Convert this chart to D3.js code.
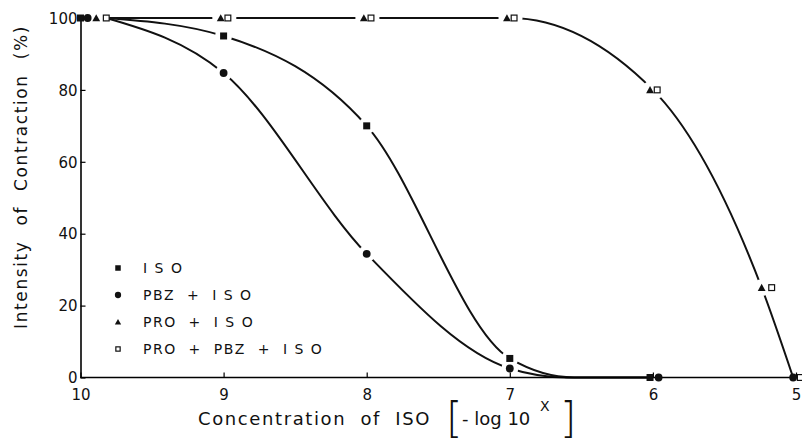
<!DOCTYPE html>
<html lang="en">
<head>
    <meta charset="utf-8"/>
    <title>Intensity of contraction vs ISO</title>
    <script src="https://d3js.org/d3.v7.min.js"></script>
    <style>
        body { margin: 0; background: white; }
        text { font-family: 'DejaVu Sans', sans-serif; fill: #111; }
    </style>
</head>
<body>
<script>

    // marker positions: [ -log conc , % contraction ]
    var isoPts    = [[10.0, 100], [9, 95], [8, 70], [7, 5.3], [6.02, 0]];
    var pbzPts    = [[9.95, 100], [9, 84.7], [8, 34.4], [7, 2.5], [5.96, 0], [5.02, 0]];
    var proPts    = [[9.89, 100], [9.02, 100], [8.02, 100], [7.02, 100], [6.02, 80], [5.24, 25]];
    var proPbzPts = [[9.82, 100], [8.97, 100], [7.97, 100], [6.97, 100], [5.97, 80], [5.17, 25], [4.97, 0]];

    // curve anchors used for the fitted lines
    var isoCurve = [[9.82, 100], [9, 95], [8, 70], [7, 5.3], [6.55, 0], [6, 0]];
    var pbzCurve = [[9.82, 100], [9, 84.7], [8, 34.4], [7, 2.5], [6.6, 0], [6, 0]];
    var proCurve = [[9.82, 100], [9, 100], [8, 100], [7, 100], [6, 80], [5.24, 25], [5.02, 0]];

    var xTicks = [10, 9, 8, 7, 6, 5];
    var yTicks = [0, 20, 40, 60, 80, 100];
    var legendNames = ['I S O', 'PBZ  +  I S O', 'PRO  +  I S O', 'PRO  +  PBZ  +  I S O'];
    var legendShapes = ['square', 'circle', 'triangle', 'open'];

    var width = 802;
    var height = 443;

    var x = d3.scaleLinear().domain([10, 5]).range([80.5, 796]);
    var y = d3.scaleLinear().domain([0, 100]).range([377.5, 18]);

    var svg = d3.select('body')
                .append('svg')
                .attr('width', width)
                .attr('height', height);

    var line = d3.line()
                 .x(function(d){ return x(d[0]); })
                 .y(function(d){ return y(d[1]); })
                 .curve(d3.curveMonotoneX);

    var curves = svg.append('g');
    [isoCurve, pbzCurve, proCurve].forEach(function(c){
        curves.append('path')
              .attr('d', line(c))
              .attr('fill', 'none')
              .attr('stroke', '#111')
              .attr('stroke-width', 2);
    });

    // white gaps around plotted points (not the start point at the left)
    var allPts = isoPts.concat(pbzPts, proPts, proPbzPts).filter(function(d){
        return d[0] < 9.5 && d[1] > 0;
    });
    svg.append('g')
       .selectAll('circle')
       .data(allPts)
       .enter()
       .append('circle')
       .attr('cx', function(d){ return x(d[0]); })
       .attr('cy', function(d){ return y(d[1]); })
       .attr('r', 8.5)
       .attr('fill', 'white');

    // axes
    var xAxis = d3.axisBottom(x).tickValues(xTicks).tickFormat(d3.format('d'))
                  .tickSizeInner(-5).tickSizeOuter(0).tickPadding(12);
    var yAxis = d3.axisLeft(y).tickValues(yTicks).tickFormat(d3.format('d'))
                  .tickSizeInner(-5).tickSizeOuter(0).tickPadding(3);

    var gx = svg.append('g')
       .attr('transform', 'translate(0,' + y(0) + ')')
       .call(xAxis);
    gx.select('.domain').attr('d', 'M' + x(10) + ',0H800').attr('stroke-width', 1.6);

    var gy = svg.append('g')
       .attr('transform', 'translate(' + x(10) + ',0)')
       .call(yAxis);
    gy.select('.domain').attr('stroke-width', 1.6);

    svg.selectAll('.tick line').attr('stroke-width', 1.2);
    svg.selectAll('.tick text')
       .style('font-family', "'DejaVu Sans', sans-serif")
       .attr('font-size', 15)
       .attr('fill', '#111');
    gy.selectAll('.tick text').attr('dy', '0.35em');

    // markers
    function drawMarker(g, shape, cx, cy, s) {
        if (shape === 'square') {
            g.append('rect').attr('x', cx - s / 2).attr('y', cy - s / 2)
             .attr('width', s).attr('height', s).attr('fill', '#111');
        } else if (shape === 'circle') {
            g.append('circle').attr('cx', cx).attr('cy', cy).attr('r', s / 2 + 0.4).attr('fill', '#111');
        } else if (shape === 'triangle') {
            var h = s * 0.95;
            g.append('path')
             .attr('d', 'M' + cx + ',' + (cy - h / 2 - 0.5) + 'L' + (cx + s / 2 + 0.4) + ',' + (cy + h / 2) + 'L' + (cx - s / 2 - 0.4) + ',' + (cy + h / 2) + 'Z')
             .attr('fill', '#111');
        } else {
            g.append('rect').attr('x', cx - s / 2 + 0.6).attr('y', cy - s / 2 + 0.6)
             .attr('width', s - 1.2).attr('height', s - 1.2)
             .attr('fill', 'white').attr('stroke', '#111').attr('stroke-width', 1.2);
        }
    }

    var gm = svg.append('g');
    [[isoPts, 'square'], [pbzPts, 'circle'], [proPts, 'triangle'], [proPbzPts, 'open']].forEach(function(p){
        p[0].forEach(function(d){
            drawMarker(gm, p[1], x(d[0]), y(d[1]), 7);
        });
    });

    // legend
    var lg = svg.append('g');
    legendNames.forEach(function(name, i){
        var ly = 268 + i * 27;
        drawMarker(lg, legendShapes[i], 118, ly, 5.5);
        lg.append('text')
          .attr('x', 143)
          .attr('y', ly)
          .attr('dy', '0.36em')
          .attr('font-size', 14)
          .style('letter-spacing', '1.5px')
          .style('white-space', 'pre')
          .text(name);
    });

    // axis titles
    svg.append('text')
       .attr('transform', 'translate(27,' + 177 + ') rotate(-90)')
       .attr('text-anchor', 'middle')
       .attr('font-size', 17)
       .style('letter-spacing', '1.6px')
       .style('word-spacing', '8px')
       .text('Intensity of Contraction (%)');

    svg.append('text')
       .attr('x', 198)
       .attr('y', 425)
       .attr('font-size', 18)
       .style('letter-spacing', '1.6px')
       .style('word-spacing', '7px')
       .text('Concentration of ISO');

    svg.append('text').attr('x', 446).attr('y', 433).attr('font-size', 42)
       .style('font-weight', 200).text('[');
    svg.append('text').attr('x', 462).attr('y', 425).attr('font-size', 18).text('- log 10');
    svg.append('text').attr('x', 540).attr('y', 411).attr('font-size', 14).text('X');
    svg.append('text').attr('x', 560).attr('y', 433).attr('font-size', 42)
       .style('font-weight', 200).text(']');

</script>
</body>
</html>
